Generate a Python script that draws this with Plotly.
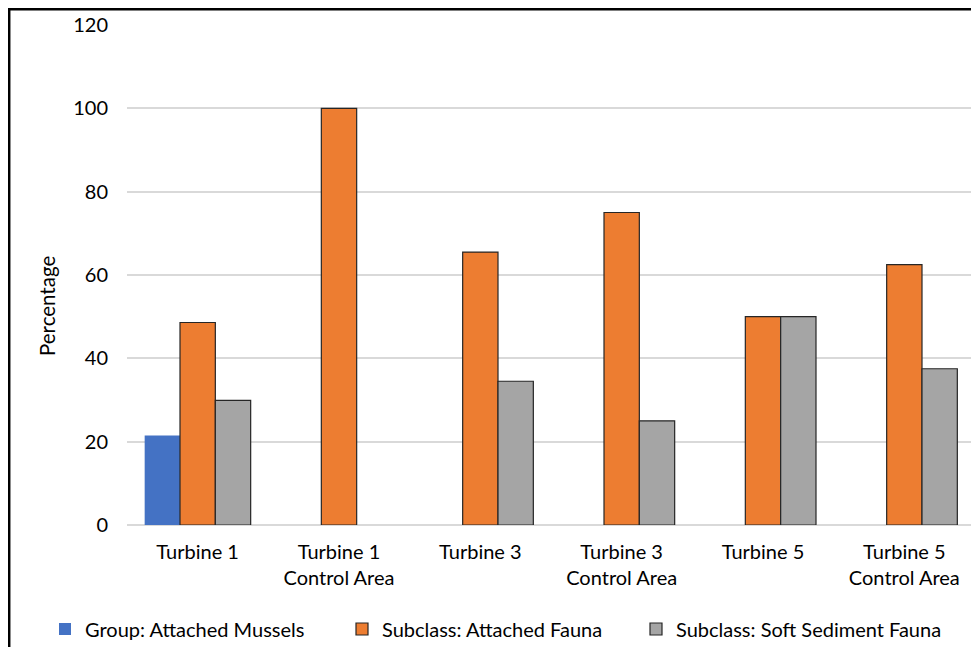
import plotly.graph_objects as go

categories = ["Turbine 1", "Turbine 1<br>Control Area", "Turbine 3",
              "Turbine 3<br>Control Area", "Turbine 5", "Turbine 5<br>Control Area"]
mussels = [21.5, None, None, None, None, None]
attached_fauna = [48.6, 100, 65.5, 75, 50, 62.5]
soft_sediment = [29.9, None, 34.5, 25, 50, 37.5]
y_ticks = [0, 20, 40, 60, 80, 100, 120]
y_title = "Percentage"

FONT = "Lato"
# page body has an 8px default margin: figure origin sits at (8, 8) in the window
W, H = 971, 639
L, R, T, B = 119, 4, 17, 122
PW = W - L - R
PH = H - T - B

fig = go.Figure()
fig.add_trace(go.Bar(name="Group: Attached Mussels", x=categories, y=mussels,
                     marker=dict(color="#4472C4", line=dict(width=0)), legend="legend"))
fig.add_trace(go.Bar(name="Subclass: Attached Fauna", x=categories, y=attached_fauna,
                     marker=dict(color="#ED7D31", line=dict(color="#262626", width=1.2)),
                     legend="legend2"))
fig.add_trace(go.Bar(name="Subclass: Soft Sediment Fauna", x=categories, y=soft_sediment,
                     marker=dict(color="#A5A5A5", line=dict(color="#262626", width=1.2)),
                     legend="legend3"))


def leg(xpix):
    return dict(orientation="h", x=(xpix - L) / PW, xanchor="left",
                y=(T + PH - 621) / PH, yanchor="middle",
                font=dict(family=FONT, size=20, color="#000000"),
                itemwidth=30, bgcolor="rgba(0,0,0,0)")


fig.update_layout(
    width=W, height=H,
    margin=dict(l=L, r=R, t=T, b=B, autoexpand=False),
    paper_bgcolor="white", plot_bgcolor="white",
    barmode="group", bargap=0.25, bargroupgap=0,
    font=dict(family=FONT, size=20, color="#000000"),
    showlegend=True,
    legend=leg(37), legend2=leg(334), legend3=leg(628),
    xaxis=dict(showgrid=False, showline=False, zeroline=False, ticks="",
               ticklabelstandoff=13, tickfont=dict(family=FONT, size=20, color="#000000")),
    yaxis=dict(range=[0, 120], tickvals=y_ticks, showgrid=True, gridcolor="#D9D9D9",
               gridwidth=1.5, zeroline=True, zerolinecolor="#D9D9D9", zerolinewidth=1.5,
               showline=False, ticks="", ticklabelstandoff=18,
               tickfont=dict(family=FONT, size=20, color="#000000")),
    annotations=[dict(text=y_title, textangle=-90, showarrow=False,
                      xref="paper", yref="paper",
                      x=(39 - L) / PW, y=(T + PH - 298) / PH,
                      xanchor="center", yanchor="middle",
                      font=dict(family=FONT, size=20.5, color="#000000"))],
    shapes=[dict(type="rect", xref="paper", yref="paper",
                 x0=(1.2 - L) / PW, x1=1.2,
                 y0=-0.6, y1=(T + PH - 1.2) / PH,
                 line=dict(color="#000000", width=2.5),
                 fillcolor="rgba(0,0,0,0)", layer="above")],
)
fig.write_html("out.html")
